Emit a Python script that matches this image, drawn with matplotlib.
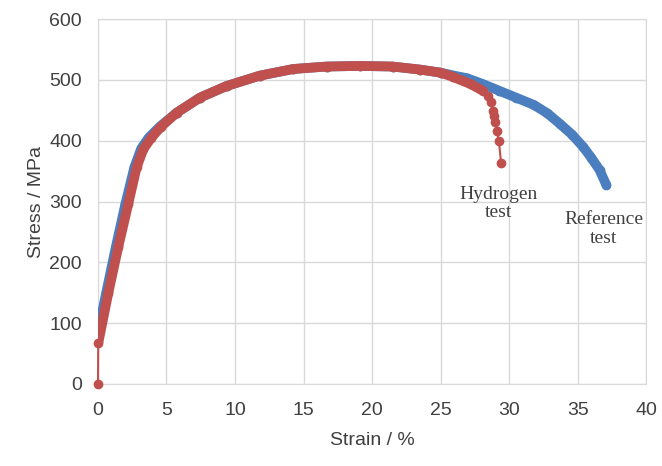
import matplotlib
matplotlib.use("Agg")
import matplotlib.pyplot as plt

# reference test (blue)
ref_strain = [0.0, 0.1, 0.6, 1.3, 2.0, 2.65, 3.15, 3.7, 4.5, 5.74, 7.45, 9.39, 11.8,
              14.26, 16.7, 19.1, 21.5, 23.5, 25.0, 26.0, 26.9, 28.0, 29.3, 30.5,
              31.8, 32.8, 33.7, 34.6, 35.4, 36.0, 36.6, 37.1]
ref_stress = [80, 95, 150, 225, 296, 356, 387, 405, 423, 446, 471, 490, 507,
              518, 522, 523, 522, 517, 512, 507, 503, 494, 482, 471,
              459, 445, 428, 410, 390, 372, 352, 327]

# hydrogen test (red)
h2_strain = [0.0, 0.02, 0.75, 1.48, 2.21, 2.82, 3.31, 3.9, 4.6, 5.74, 7.45, 9.39,
             11.8, 14.26, 16.7, 19.1, 21.5, 23.5, 25.0, 25.9, 27.2, 28.1,
             28.49, 28.69, 28.81, 28.9, 29.0, 29.1, 29.25, 29.42]
h2_stress = [0, 67, 149, 225, 296, 356, 386, 405, 423, 446, 471, 490,
             507, 518, 522, 523, 522, 517, 512, 505, 493, 482,
             474, 463, 449, 441, 430, 416, 400, 363]

blue = "#4a7ebf"
red = "#c0504d"
txt = "#404040"
grid = "#d9d9d9"

fig = plt.figure(figsize=(6.62, 4.66), dpi=100)
ax = fig.add_axes([0.148, 0.176, 0.828, 0.783])

# reference test: dense markers -> thick band
ax.plot(ref_strain, ref_stress, color=blue, lw=7, solid_capstyle="round",
        solid_joinstyle="round", zorder=3)
ax.plot(ref_strain, ref_stress, color=blue, lw=0, marker="o", ms=6, zorder=3)

# hydrogen test: thin connecting line with markers, dense part thick
dense = 22
ax.plot(h2_strain, h2_stress, color=red, lw=1.5, marker="o", ms=6, zorder=4, clip_on=False)
ax.plot(h2_strain[1:dense], h2_stress[1:dense], color=red, lw=7, solid_capstyle="round",
        solid_joinstyle="round", zorder=4)

ax.text(29.2, 297, "Hydrogen\ntest", ha="center", va="center", fontsize=14,
        family="Liberation Serif", color=txt, linespacing=1.1)
ax.text(36.9, 255, "Reference\ntest", ha="center", va="center", fontsize=14,
        family="Liberation Serif", color=txt, linespacing=1.1)

ax.set_xlim(0, 40)
ax.set_ylim(0, 600)
ax.set_xticks(range(0, 41, 5))
ax.set_yticks(range(0, 601, 100))
ax.grid(True, color=grid, lw=1)
ax.set_axisbelow(True)
for s in ax.spines.values():
    s.set_color(grid)
ax.tick_params(length=0, labelsize=14, labelcolor=txt)
ax.tick_params(axis="y", pad=11.5)
ax.tick_params(axis="x", pad=13)
for lab in ax.get_xticklabels() + ax.get_yticklabels():
    lab.set_family("Liberation Sans")

ax.set_xlabel("Strain / %", fontsize=14, color=txt, family="Liberation Sans", labelpad=9)
ax.set_ylabel("Stress / MPa", fontsize=14, color=txt, family="Liberation Sans", labelpad=3)

fig.savefig("out.png", dpi=100)
